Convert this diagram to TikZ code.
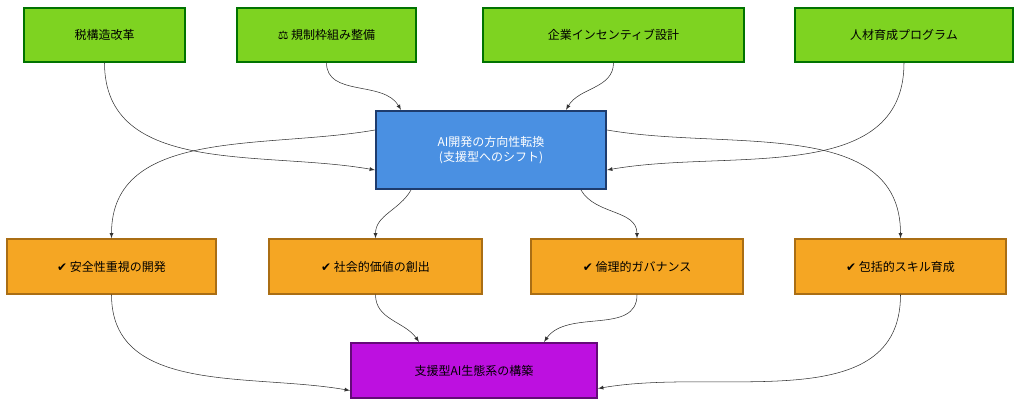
\documentclass[tikz,border=0pt]{standalone}
\usepackage{fontspec}
\setmainfont{Noto Sans CJK JP}
\newfontfamily\symfont{DejaVu Sans}
\begin{document}
\begin{tikzpicture}[x=0.75pt,y=-0.75pt,
  every node/.style={draw, shape=rectangle, inner sep=0pt, font=\small},
  policy/.style={fill=green!55!lime!85!black!95, draw=green!45!black, line width=1pt, fill={rgb,255:red,126;green,211;blue,33}},
  pivot/.style={fill={rgb,255:red,74;green,144;blue,226}, draw={rgb,255:red,30;green,60;blue,110}, line width=1.6pt, text=white, align=center},
  effect/.style={fill={rgb,255:red,245;green,166;blue,35}, draw={rgb,255:red,170;green,110;blue,20}, line width=1pt},
  goal/.style={fill={rgb,255:red,189;green,16;blue,224}, draw={rgb,255:red,100;green,10;blue,120}, line width=1.6pt},
  link/.style={draw={rgb,255:red,50;green,50;blue,50}, -latex, thin}]
\useasboundingbox (0,0) rectangle (1030,406);
% top row
\node[policy, minimum width=161*0.75pt, minimum height=54*0.75pt] (tax) at (104.5,35) {税構造改革};
\node[policy, minimum width=179*0.75pt, minimum height=54*0.75pt] (rule) at (326.5,35) {{\symfont ⚖} 規制枠組み整備};
\node[policy, minimum width=261*0.75pt, minimum height=54*0.75pt] (firm) at (613.5,35) {企業インセンティブ設計};
\node[policy, minimum width=218*0.75pt, minimum height=54*0.75pt] (talent) at (904,35) {人材育成プログラム};
% pivot
\node[pivot, minimum width=230*0.75pt, minimum height=78*0.75pt] (shift) at (491,150) {AI開発の方向性転換\\(支援型へのシフト)};
% middle row
\node[effect, minimum width=209*0.75pt, minimum height=55*0.75pt] (safe) at (111.5,266.5) {{\symfont ✔} 安全性重視の開発};
\node[effect, minimum width=213*0.75pt, minimum height=55*0.75pt] (social) at (375.5,266.5) {{\symfont ✔} 社会的価値の創出};
\node[effect, minimum width=212*0.75pt, minimum height=55*0.75pt] (ethic) at (637,266.5) {{\symfont ✔} 倫理的ガバナンス};
\node[effect, minimum width=211*0.75pt, minimum height=55*0.75pt] (skill) at (900.5,266.5) {{\symfont ✔} 包括的スキル育成};
% goal
\node[goal, minimum width=246*0.75pt, minimum height=55*0.75pt] (eco) at (474,370.5) {支援型AI生態系の構築};
% connectors
\draw[link] (tax.south) to[out=-90,in=170] ([yshift=-20*0.75pt]shift.west);
\draw[link] (rule.south) to[out=-90,in=120] ([xshift=-90*0.75pt]shift.north);
\draw[link] (firm.south) to[out=-90,in=60] ([xshift=75*0.75pt]shift.north);
\draw[link] (talent.south) to[out=-90,in=10] ([yshift=-20*0.75pt]shift.east);
\draw[link] ([yshift=20*0.75pt]shift.west) to[out=190,in=90] (safe.north);
\draw[link] ([xshift=-80*0.75pt]shift.south) to[out=-120,in=90] (social.north);
\draw[link] ([xshift=90*0.75pt]shift.south) to[out=-60,in=90] (ethic.north);
\draw[link] ([yshift=20*0.75pt]shift.east) to[out=-10,in=90] (skill.north);
\draw[link] (safe.south) to[out=-90,in=170] ([yshift=-20*0.75pt]eco.west);
\draw[link] (social.south) to[out=-90,in=125] ([xshift=-55*0.75pt]eco.north);
\draw[link] (ethic.south) to[out=-90,in=55] ([xshift=70*0.75pt]eco.north);
\draw[link] (skill.south) to[out=-90,in=10] ([yshift=-18*0.75pt]eco.east);
\end{tikzpicture}
\end{document}
